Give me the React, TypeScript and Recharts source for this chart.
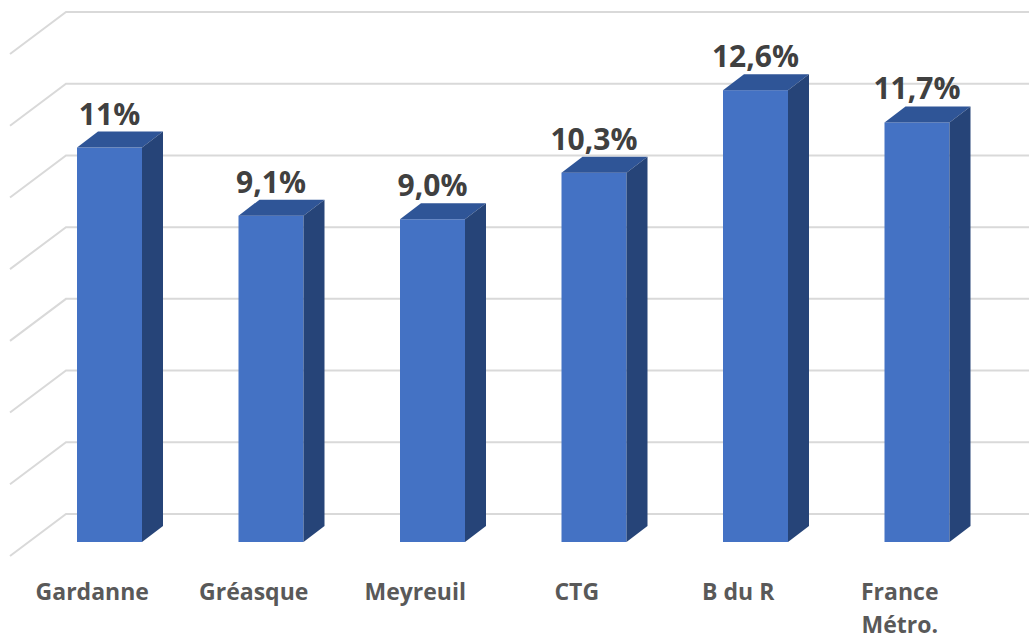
import React from 'react';
import { BarChart, Bar, XAxis, YAxis, CartesianGrid, LabelList } from 'recharts';

const categories = ['Gardanne', 'Gréasque', 'Meyreuil', 'CTG', 'B du R', 'France\nMétro.'];
const values = [11, 9.1, 9.0, 10.3, 12.6, 11.7];
const valueLabels = ['11%', '9,1%', '9,0%', '10,3%', '12,6%', '11,7%'];
const gridTicks = [0, 2, 4, 6, 8, 10, 12, 14];

const data = categories.map((name, i) => ({ name, value: values[i], label: valueLabels[i] }));

const W = 1029;
const H = 639;
const FONT = '"Open Sans", "Noto Sans", sans-serif';

// bar depth offset (side + top faces)
const BAR_DX = 21;
const BAR_DY = 16;
// back wall offset for the gridlines
const WALL_X_FRONT = 10;
const WALL_X_BACK = 66;
const WALL_DROP = 14;
const WALL_RISE = 28;

const Bar3D = (props: any) => {
  const { x, y, width, height } = props;
  const top = `${x},${y} ${x + BAR_DX},${y - BAR_DY} ${x + width + BAR_DX},${y - BAR_DY} ${x + width},${y}`;
  const side = `${x + width},${y} ${x + width + BAR_DX},${y - BAR_DY} ${x + width + BAR_DX},${y + height - BAR_DY} ${x + width},${y + height}`;
  return (
    <g>
      <rect x={x} y={y} width={width} height={height} fill="#4472C4" />
      <polygon points={top} fill="#2F5597" />
      <polygon points={side} fill="#264478" />
    </g>
  );
};

const gridLine3D = (props: any) => {
  const { y1, index } = props;
  const yBack = y1 - WALL_RISE;
  const yFront = y1 + WALL_DROP;
  return (
    <polyline
      key={`g-${index}-${y1}`}
      points={`${WALL_X_FRONT},${yFront} ${WALL_X_BACK},${yBack} ${W},${yBack}`}
      fill="none"
      stroke="#D9D9D9"
      strokeWidth={2}
    />
  );
};

const ValueLabel = (props: any) => {
  const { x, y, width, value } = props;
  return (
    <text
      x={x + width / 2}
      y={y - BAR_DY - 7}
      textAnchor="middle"
      fontFamily={FONT}
      fontWeight={700}
      fontSize={30}
      fill="#404040"
    >
      {value}
    </text>
  );
};

const CategoryTick = (props: any) => {
  const { x, y, payload } = props;
  const lines = String(payload.value).split('\n');
  return (
    <text
      x={x - 17.5}
      y={y + 58}
      textAnchor="middle"
      fontFamily={FONT}
      fontWeight={700}
      fontSize={23}
      fill="#595959"
    >
      {lines.map((l, i) => (
        <tspan key={i} x={x - 17.5} dy={i === 0 ? 0 : 33}>
          {l}
        </tspan>
      ))}
    </text>
  );
};

export default function App() {
  return (
    <div style={{ position: 'absolute', left: 0, top: 0, width: W, height: H, background: '#fff' }}>
      <BarChart
        width={W}
        height={H}
        data={data}
        margin={{ top: 40, right: 31, bottom: 0, left: 29 }}
        barSize={65}
      >
        <CartesianGrid vertical={false} horizontal={gridLine3D} />
        <XAxis
          dataKey="name"
          axisLine={false}
          tickLine={false}
          tickSize={0}
          tickMargin={0}
          height={97}
          interval={0}
          tick={<CategoryTick />}
        />
        <YAxis hide domain={[0, 14]} ticks={gridTicks} />
        <Bar dataKey="value" shape={<Bar3D />} isAnimationActive={false}>
          <LabelList dataKey="label" content={<ValueLabel />} />
        </Bar>
      </BarChart>
    </div>
  );
}
